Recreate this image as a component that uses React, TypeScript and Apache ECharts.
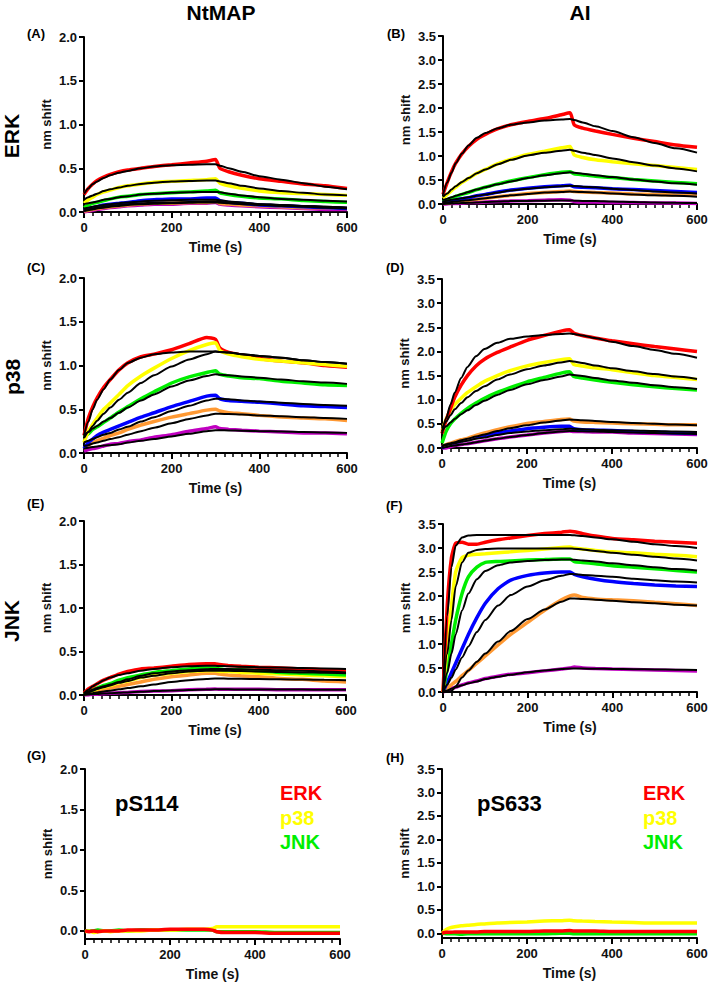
import React, { useEffect, useRef } from "react";
import * as echarts from "echarts";

// shared time grid (s)
const T = [0, 10, 20, 30, 45, 60, 80, 100, 130, 160, 200, 240, 280, 300, 310, 330, 360, 400, 450, 500, 550, 600];

const COLORS = { red: "#ff0000", yellow: "#ffff00", green: "#00ee00", blue: "#0000ff", orange: "#ff9933", purple: "#c000c0" };

// Panel A: NtMAP / ERK
const aRed = [0.2, 0.27, 0.32, 0.36, 0.4, 0.43, 0.46, 0.48, 0.5, 0.52, 0.54, 0.56, 0.58, 0.6, 0.5, 0.46, 0.42, 0.38, 0.35, 0.32, 0.3, 0.27];
const aRedFit = [0.21, 0.27, 0.32, 0.35, 0.39, 0.42, 0.45, 0.47, 0.5, 0.52, 0.535, 0.54, 0.545, 0.545, 0.53, 0.5, 0.46, 0.41, 0.37, 0.33, 0.29, 0.26];
const aYellow = [0.1, 0.14, 0.17, 0.2, 0.23, 0.25, 0.28, 0.3, 0.32, 0.34, 0.35, 0.36, 0.37, 0.38, 0.33, 0.3, 0.27, 0.24, 0.22, 0.21, 0.2, 0.19];
const aYellowFit = [0.14, 0.17, 0.19, 0.21, 0.24, 0.26, 0.28, 0.3, 0.32, 0.335, 0.35, 0.355, 0.36, 0.36, 0.35, 0.33, 0.3, 0.27, 0.24, 0.22, 0.2, 0.19];
const aGreen = [0.05, 0.08, 0.1, 0.11, 0.13, 0.15, 0.17, 0.18, 0.2, 0.21, 0.22, 0.23, 0.24, 0.25, 0.22, 0.2, 0.18, 0.16, 0.15, 0.13, 0.12, 0.11];
const aGreenFit = [0.09, 0.1, 0.11, 0.12, 0.14, 0.15, 0.17, 0.18, 0.2, 0.21, 0.22, 0.225, 0.23, 0.23, 0.225, 0.21, 0.19, 0.17, 0.15, 0.14, 0.13, 0.12];
const aBlue = [0.02, 0.04, 0.05, 0.06, 0.08, 0.09, 0.1, 0.11, 0.13, 0.14, 0.15, 0.15, 0.16, 0.16, 0.13, 0.11, 0.1, 0.08, 0.07, 0.06, 0.05, 0.04];
const aBlueFit = [0.04, 0.05, 0.06, 0.07, 0.08, 0.09, 0.1, 0.11, 0.12, 0.13, 0.135, 0.14, 0.14, 0.14, 0.135, 0.12, 0.11, 0.09, 0.08, 0.07, 0.06, 0.05];
const aOrange = [0.01, 0.02, 0.03, 0.04, 0.05, 0.06, 0.07, 0.08, 0.09, 0.1, 0.1, 0.11, 0.11, 0.12, 0.1, 0.09, 0.08, 0.07, 0.06, 0.05, 0.05, 0.04];
const aOrangeFit = [0.02, 0.03, 0.04, 0.05, 0.06, 0.07, 0.08, 0.09, 0.1, 0.105, 0.11, 0.115, 0.12, 0.12, 0.115, 0.11, 0.1, 0.09, 0.08, 0.07, 0.06, 0.05];
const aPurple = [0.0, 0.01, 0.02, 0.03, 0.04, 0.05, 0.06, 0.07, 0.08, 0.09, 0.09, 0.1, 0.1, 0.11, 0.09, 0.08, 0.07, 0.06, 0.05, 0.04, 0.03, 0.03];
const aPurpleFit = [0.01, 0.02, 0.03, 0.04, 0.05, 0.06, 0.07, 0.08, 0.09, 0.095, 0.1, 0.105, 0.11, 0.11, 0.105, 0.1, 0.09, 0.08, 0.07, 0.06, 0.05, 0.04];

// Panel B: AI / ERK
const bRed = [0.2, 0.45, 0.67, 0.85, 1.05, 1.2, 1.35, 1.45, 1.57, 1.65, 1.72, 1.78, 1.86, 1.9, 1.65, 1.58, 1.52, 1.45, 1.37, 1.3, 1.23, 1.18];
const bRedFit = [0.2, 0.45, 0.65, 0.85, 1.05, 1.22, 1.38, 1.48, 1.58, 1.65, 1.7, 1.74, 1.76, 1.77, 1.75, 1.7, 1.62, 1.52, 1.39, 1.27, 1.16, 1.07];
const bYellow = [0.12, 0.2, 0.28, 0.35, 0.45, 0.53, 0.64, 0.72, 0.84, 0.93, 1.03, 1.1, 1.17, 1.2, 1.02, 0.97, 0.92, 0.88, 0.84, 0.8, 0.76, 0.72];
const bYellowFit = [0.15, 0.22, 0.3, 0.37, 0.46, 0.54, 0.64, 0.72, 0.83, 0.92, 1.01, 1.07, 1.11, 1.13, 1.11, 1.07, 1.02, 0.95, 0.87, 0.8, 0.74, 0.68];
const bGreen = [0.05, 0.09, 0.12, 0.16, 0.2, 0.24, 0.3, 0.35, 0.42, 0.48, 0.55, 0.61, 0.66, 0.67, 0.63, 0.61, 0.58, 0.55, 0.51, 0.48, 0.45, 0.42];
const bGreenFit = [0.08, 0.11, 0.14, 0.17, 0.21, 0.25, 0.3, 0.35, 0.41, 0.47, 0.54, 0.6, 0.64, 0.66, 0.65, 0.63, 0.6, 0.56, 0.51, 0.47, 0.43, 0.4];
const bBlue = [0.03, 0.05, 0.07, 0.09, 0.11, 0.13, 0.17, 0.2, 0.25, 0.29, 0.33, 0.36, 0.38, 0.39, 0.36, 0.35, 0.34, 0.32, 0.3, 0.28, 0.26, 0.24];
const bBlueFit = [0.05, 0.07, 0.09, 0.1, 0.12, 0.14, 0.17, 0.2, 0.24, 0.28, 0.32, 0.35, 0.37, 0.38, 0.375, 0.36, 0.35, 0.32, 0.29, 0.26, 0.24, 0.22];
const bOrange = [0.01, 0.02, 0.03, 0.05, 0.07, 0.08, 0.1, 0.12, 0.15, 0.18, 0.22, 0.24, 0.26, 0.27, 0.26, 0.25, 0.24, 0.23, 0.21, 0.2, 0.19, 0.18];
const bOrangeFit = [0.02, 0.03, 0.04, 0.05, 0.07, 0.08, 0.1, 0.12, 0.15, 0.18, 0.21, 0.24, 0.25, 0.26, 0.255, 0.25, 0.24, 0.22, 0.2, 0.18, 0.17, 0.15];
const bPurple = [-0.01, 0.0, 0.01, 0.01, 0.02, 0.03, 0.03, 0.04, 0.05, 0.06, 0.07, 0.08, 0.09, 0.08, 0.05, 0.04, 0.04, 0.03, 0.03, 0.02, 0.02, 0.01];
const bPurpleFit = [0.0, 0.005, 0.01, 0.015, 0.02, 0.025, 0.03, 0.04, 0.05, 0.06, 0.065, 0.07, 0.075, 0.075, 0.07, 0.065, 0.06, 0.05, 0.04, 0.03, 0.025, 0.02];

// Panel C: NtMAP / p38
const cRed = [0.2, 0.4, 0.53, 0.63, 0.75, 0.84, 0.95, 1.03, 1.1, 1.13, 1.18, 1.25, 1.32, 1.3, 1.2, 1.15, 1.12, 1.08, 1.05, 1.03, 1.0, 0.98];
const cRedFit = [0.2, 0.36, 0.5, 0.61, 0.73, 0.84, 0.95, 1.03, 1.09, 1.13, 1.15, 1.16, 1.16, 1.16, 1.155, 1.15, 1.13, 1.11, 1.09, 1.06, 1.04, 1.02];
const cYellow = [0.12, 0.25, 0.33, 0.4, 0.5, 0.57, 0.67, 0.77, 0.88, 0.97, 1.08, 1.17, 1.24, 1.26, 1.17, 1.13, 1.1, 1.07, 1.05, 1.03, 1.01, 0.99];
const cYellowFit = [0.17, 0.24, 0.31, 0.37, 0.45, 0.52, 0.61, 0.69, 0.8, 0.89, 0.99, 1.07, 1.13, 1.16, 1.155, 1.15, 1.13, 1.11, 1.09, 1.06, 1.04, 1.02];
const cGreen = [0.18, 0.22, 0.27, 0.3, 0.35, 0.4, 0.47, 0.53, 0.62, 0.7, 0.8, 0.87, 0.92, 0.94, 0.9, 0.88, 0.86, 0.85, 0.82, 0.8, 0.78, 0.77];
const cGreenFit = [0.2, 0.24, 0.28, 0.31, 0.36, 0.4, 0.46, 0.52, 0.6, 0.67, 0.76, 0.83, 0.88, 0.9, 0.895, 0.89, 0.875, 0.86, 0.84, 0.82, 0.805, 0.79];
const cBlue = [0.05, 0.12, 0.16, 0.2, 0.24, 0.27, 0.31, 0.35, 0.41, 0.46, 0.53, 0.59, 0.65, 0.66, 0.62, 0.6, 0.59, 0.58, 0.56, 0.54, 0.53, 0.52];
const cBlueFit = [0.12, 0.14, 0.16, 0.18, 0.21, 0.23, 0.27, 0.3, 0.36, 0.41, 0.48, 0.54, 0.6, 0.62, 0.62, 0.615, 0.6, 0.59, 0.575, 0.56, 0.55, 0.54];
const cOrange = [0.05, 0.09, 0.12, 0.14, 0.17, 0.2, 0.23, 0.27, 0.32, 0.36, 0.41, 0.45, 0.49, 0.5, 0.48, 0.46, 0.45, 0.43, 0.41, 0.4, 0.39, 0.37];
const cOrangeFit = [0.08, 0.09, 0.11, 0.12, 0.14, 0.16, 0.18, 0.21, 0.25, 0.29, 0.34, 0.39, 0.43, 0.45, 0.448, 0.445, 0.44, 0.43, 0.42, 0.41, 0.4, 0.39];
const cPurple = [0.02, 0.04, 0.05, 0.06, 0.08, 0.1, 0.11, 0.13, 0.15, 0.18, 0.21, 0.25, 0.28, 0.3, 0.28, 0.27, 0.26, 0.25, 0.24, 0.23, 0.23, 0.22];
const cPurpleFit = [0.05, 0.06, 0.07, 0.075, 0.085, 0.09, 0.1, 0.12, 0.14, 0.16, 0.19, 0.22, 0.25, 0.26, 0.26, 0.258, 0.255, 0.25, 0.245, 0.24, 0.235, 0.23];

// Panel D: AI / p38
const dRed = [0.3, 0.58, 0.82, 1.05, 1.3, 1.5, 1.7, 1.84, 1.98, 2.09, 2.23, 2.33, 2.42, 2.45, 2.38, 2.33, 2.28, 2.22, 2.16, 2.1, 2.05, 2.0];
const dRedFit = [0.3, 0.62, 0.9, 1.15, 1.45, 1.68, 1.9, 2.05, 2.18, 2.26, 2.31, 2.34, 2.36, 2.37, 2.36, 2.33, 2.28, 2.2, 2.11, 2.03, 1.95, 1.87];
const dYellow = [0.35, 0.6, 0.78, 0.9, 1.03, 1.15, 1.27, 1.38, 1.5, 1.6, 1.7, 1.77, 1.83, 1.85, 1.73, 1.7, 1.66, 1.62, 1.56, 1.5, 1.46, 1.42];
const dYellowFit = [0.4, 0.55, 0.68, 0.8, 0.93, 1.05, 1.18, 1.28, 1.42, 1.52, 1.63, 1.71, 1.77, 1.8, 1.79, 1.76, 1.71, 1.65, 1.59, 1.53, 1.48, 1.43];
const dGreen = [0.1, 0.35, 0.5, 0.6, 0.72, 0.82, 0.93, 1.03, 1.15, 1.25, 1.37, 1.46, 1.55, 1.58, 1.48, 1.45, 1.41, 1.36, 1.31, 1.27, 1.23, 1.2];
const dGreenFit = [0.35, 0.45, 0.53, 0.6, 0.7, 0.78, 0.89, 0.98, 1.1, 1.2, 1.32, 1.41, 1.48, 1.52, 1.51, 1.49, 1.45, 1.4, 1.35, 1.3, 1.26, 1.22];
const dBlue = [0.0, 0.05, 0.08, 0.11, 0.15, 0.18, 0.22, 0.26, 0.31, 0.35, 0.4, 0.43, 0.45, 0.45, 0.4, 0.38, 0.37, 0.36, 0.34, 0.33, 0.31, 0.3];
const dBlueFit = [0.03, 0.06, 0.08, 0.1, 0.13, 0.15, 0.19, 0.22, 0.27, 0.31, 0.34, 0.37, 0.39, 0.4, 0.398, 0.39, 0.38, 0.37, 0.36, 0.35, 0.34, 0.33];
const dOrange = [0.03, 0.07, 0.1, 0.13, 0.17, 0.2, 0.26, 0.31, 0.38, 0.44, 0.51, 0.55, 0.59, 0.6, 0.56, 0.54, 0.53, 0.52, 0.5, 0.49, 0.48, 0.48];
const dOrangeFit = [0.05, 0.08, 0.1, 0.12, 0.16, 0.19, 0.24, 0.28, 0.35, 0.41, 0.47, 0.53, 0.57, 0.59, 0.585, 0.575, 0.56, 0.54, 0.52, 0.5, 0.485, 0.47];
const dPurple = [-0.02, 0.0, 0.03, 0.05, 0.07, 0.09, 0.12, 0.15, 0.19, 0.23, 0.27, 0.31, 0.34, 0.35, 0.34, 0.34, 0.33, 0.33, 0.31, 0.3, 0.29, 0.28];
const dPurpleFit = [0.0, 0.02, 0.04, 0.05, 0.07, 0.09, 0.12, 0.15, 0.19, 0.23, 0.27, 0.31, 0.34, 0.35, 0.35, 0.345, 0.34, 0.33, 0.32, 0.31, 0.3, 0.29];

// Panel E: NtMAP / JNK
const eRed = [0.02, 0.07, 0.1, 0.13, 0.17, 0.2, 0.24, 0.27, 0.3, 0.31, 0.33, 0.35, 0.36, 0.36, 0.35, 0.34, 0.33, 0.32, 0.31, 0.3, 0.29, 0.28];
const eRedFit = [0.02, 0.06, 0.1, 0.13, 0.17, 0.2, 0.23, 0.25, 0.28, 0.3, 0.32, 0.33, 0.335, 0.335, 0.334, 0.33, 0.325, 0.32, 0.315, 0.31, 0.305, 0.3];
const eYellow = [0.01, 0.03, 0.05, 0.07, 0.09, 0.11, 0.14, 0.16, 0.2, 0.23, 0.25, 0.27, 0.28, 0.28, 0.27, 0.27, 0.26, 0.25, 0.24, 0.23, 0.22, 0.21];
const eYellowFit = [0.01, 0.03, 0.05, 0.07, 0.09, 0.11, 0.14, 0.16, 0.2, 0.22, 0.25, 0.27, 0.28, 0.28, 0.28, 0.278, 0.275, 0.27, 0.265, 0.26, 0.255, 0.25];
const eGreen = [0.01, 0.04, 0.06, 0.08, 0.11, 0.13, 0.17, 0.2, 0.23, 0.26, 0.28, 0.3, 0.31, 0.31, 0.3, 0.29, 0.29, 0.28, 0.26, 0.25, 0.24, 0.23];
const eGreenFit = [0.02, 0.04, 0.06, 0.08, 0.1, 0.12, 0.15, 0.18, 0.22, 0.25, 0.27, 0.285, 0.295, 0.3, 0.3, 0.298, 0.295, 0.29, 0.285, 0.28, 0.27, 0.26];
const eOrange = [0.01, 0.02, 0.04, 0.05, 0.07, 0.08, 0.1, 0.12, 0.15, 0.18, 0.21, 0.23, 0.25, 0.25, 0.24, 0.23, 0.22, 0.21, 0.19, 0.18, 0.16, 0.15];
const eOrangeFit = [0.01, 0.015, 0.02, 0.03, 0.04, 0.05, 0.065, 0.08, 0.1, 0.12, 0.15, 0.17, 0.185, 0.19, 0.19, 0.188, 0.186, 0.183, 0.18, 0.177, 0.174, 0.17];
const ePurple = [0.0, 0.0, 0.01, 0.01, 0.015, 0.02, 0.025, 0.03, 0.04, 0.045, 0.05, 0.06, 0.065, 0.07, 0.065, 0.065, 0.065, 0.065, 0.06, 0.06, 0.06, 0.06];
const ePurpleFit = [0.0, 0.005, 0.01, 0.012, 0.016, 0.02, 0.025, 0.03, 0.038, 0.045, 0.052, 0.058, 0.063, 0.065, 0.065, 0.065, 0.064, 0.064, 0.063, 0.062, 0.061, 0.06];

// Panel F: AI / JNK
const fRed = [0, 1.8, 2.8, 3.1, 3.12, 3.08, 3.08, 3.12, 3.17, 3.21, 3.26, 3.3, 3.33, 3.35, 3.34, 3.3, 3.25, 3.2, 3.17, 3.14, 3.12, 3.1];
const fRedFit = [0, 1.6, 2.6, 3.05, 3.22, 3.26, 3.27, 3.27, 3.27, 3.27, 3.27, 3.27, 3.27, 3.27, 3.265, 3.25, 3.22, 3.18, 3.13, 3.08, 3.04, 3.0];
const fYellow = [0, 1.0, 1.8, 2.5, 2.8, 2.85, 2.87, 2.88, 2.9, 2.92, 2.95, 2.98, 3.01, 3.02, 3.0, 2.98, 2.95, 2.92, 2.9, 2.87, 2.85, 2.82];
const fYellowFit = [0, 0.8, 1.5, 2.2, 2.7, 2.9, 2.96, 2.98, 2.99, 2.99, 2.99, 2.99, 2.99, 2.99, 2.985, 2.97, 2.94, 2.9, 2.86, 2.82, 2.78, 2.74];
const fGreen = [0, 0.5, 1.0, 1.5, 2.05, 2.4, 2.6, 2.7, 2.72, 2.73, 2.75, 2.76, 2.77, 2.77, 2.72, 2.7, 2.67, 2.63, 2.6, 2.57, 2.53, 2.5];
const fGreenFit = [0, 0.4, 0.8, 1.2, 1.7, 2.05, 2.35, 2.52, 2.64, 2.7, 2.73, 2.75, 2.76, 2.76, 2.755, 2.74, 2.72, 2.68, 2.64, 2.6, 2.56, 2.53];
const fBlue = [0, 0.2, 0.4, 0.6, 0.9, 1.2, 1.55, 1.85, 2.15, 2.33, 2.43, 2.48, 2.5, 2.5, 2.45, 2.4, 2.35, 2.3, 2.26, 2.23, 2.21, 2.2];
const fBlueFit = [0, 0.15, 0.3, 0.47, 0.72, 0.95, 1.25, 1.5, 1.8, 2.02, 2.2, 2.33, 2.42, 2.46, 2.455, 2.44, 2.42, 2.4, 2.36, 2.33, 2.3, 2.28];
const fOrange = [0, 0.08, 0.15, 0.22, 0.34, 0.45, 0.6, 0.75, 0.98, 1.2, 1.45, 1.7, 1.92, 2.0, 2.02, 1.97, 1.94, 1.92, 1.9, 1.87, 1.84, 1.8];
const fOrangeFit = [0, 0.0, 0.02, 0.12, 0.3, 0.45, 0.63, 0.8, 1.05, 1.27, 1.52, 1.72, 1.88, 1.95, 1.95, 1.94, 1.92, 1.9, 1.87, 1.85, 1.82, 1.8];
const fPurple = [0, 0.03, 0.07, 0.1, 0.15, 0.19, 0.23, 0.28, 0.33, 0.37, 0.4, 0.44, 0.48, 0.5, 0.52, 0.5, 0.49, 0.48, 0.47, 0.46, 0.45, 0.44];
const fPurpleFit = [0, 0.03, 0.07, 0.1, 0.14, 0.18, 0.22, 0.27, 0.32, 0.36, 0.41, 0.45, 0.48, 0.49, 0.49, 0.488, 0.485, 0.48, 0.475, 0.47, 0.465, 0.46];

// Panel G: pS114 peptide
const gRed = [0.0, -0.01, 0.0, -0.01, 0.0, 0.0, 0.0, 0.01, 0.01, 0.01, 0.02, 0.02, 0.02, 0.01, -0.01, -0.02, -0.02, -0.02, -0.03, -0.03, -0.03, -0.03];
const gYellow = [-0.01, 0.0, -0.02, -0.01, 0.0, -0.01, 0.0, 0.0, 0.0, 0.01, 0.01, 0.02, 0.02, 0.03, 0.05, 0.05, 0.05, 0.05, 0.05, 0.05, 0.05, 0.05];
const gGreen = [0.0, 0.0, 0.0, 0.01, 0.0, 0.0, 0.01, 0.0, 0.01, 0.01, 0.01, 0.01, 0.01, 0.01, -0.01, -0.01, -0.01, -0.01, -0.02, -0.02, -0.02, -0.02];

// Panel H: pS633 peptide
const hRed = [0.0, 0.02, 0.02, 0.03, 0.03, 0.03, 0.03, 0.04, 0.04, 0.04, 0.04, 0.05, 0.05, 0.06, 0.05, 0.05, 0.05, 0.04, 0.04, 0.04, 0.04, 0.04];
const hYellow = [0.0, 0.08, 0.12, 0.14, 0.16, 0.17, 0.19, 0.2, 0.22, 0.23, 0.24, 0.26, 0.27, 0.28, 0.27, 0.26, 0.25, 0.24, 0.23, 0.22, 0.22, 0.22];
const hGreen = [0.0, -0.01, -0.01, -0.01, -0.02, -0.01, -0.01, -0.01, -0.01, -0.01, -0.01, -0.01, 0.0, 0.0, -0.01, -0.01, -0.01, -0.01, -0.01, -0.01, -0.01, -0.01];

const X_TICKS = [0, 200, 400, 600];
const Y_TICKS_2 = [0, 0.5, 1, 1.5, 2];
const Y_TICKS_35 = [0, 0.5, 1, 1.5, 2, 2.5, 3, 3.5];

const FONT = "Liberation Sans, Arial, Helvetica, sans-serif";

type Panel = {
  grid: { left: number; top: number; width: number; height: number };
  ymin: number;
  ymax: number;
  ticks: number[];
  data: [string, number[]][];
  fits: number[][];
};

const panels: Panel[] = [
  {
    grid: { left: 84, top: 37, width: 263, height: 175 }, ymin: 0, ymax: 2, ticks: Y_TICKS_2,
    data: [["purple", aPurple], ["orange", aOrange], ["blue", aBlue], ["green", aGreen], ["yellow", aYellow], ["red", aRed]],
    fits: [aPurpleFit, aOrangeFit, aBlueFit, aGreenFit, aYellowFit, aRedFit],
  },
  {
    grid: { left: 443, top: 36, width: 254, height: 168 }, ymin: 0, ymax: 3.5, ticks: Y_TICKS_35,
    data: [["purple", bPurple], ["orange", bOrange], ["blue", bBlue], ["green", bGreen], ["yellow", bYellow], ["red", bRed]],
    fits: [bPurpleFit, bOrangeFit, bBlueFit, bGreenFit, bYellowFit, bRedFit],
  },
  {
    grid: { left: 84, top: 278, width: 263, height: 175 }, ymin: 0, ymax: 2, ticks: Y_TICKS_2,
    data: [["purple", cPurple], ["orange", cOrange], ["blue", cBlue], ["green", cGreen], ["red", cRed], ["yellow", cYellow]],
    fits: [cPurpleFit, cOrangeFit, cBlueFit, cGreenFit, cYellowFit, cRedFit],
  },
  {
    grid: { left: 442, top: 279, width: 255, height: 169 }, ymin: 0, ymax: 3.5, ticks: Y_TICKS_35,
    data: [["purple", dPurple], ["blue", dBlue], ["orange", dOrange], ["green", dGreen], ["yellow", dYellow], ["red", dRed]],
    fits: [dPurpleFit, dBlueFit, dOrangeFit, dGreenFit, dYellowFit, dRedFit],
  },
  {
    grid: { left: 84, top: 521, width: 262, height: 174 }, ymin: 0, ymax: 2, ticks: Y_TICKS_2,
    data: [["purple", ePurple], ["orange", eOrange], ["yellow", eYellow], ["green", eGreen], ["red", eRed]],
    fits: [ePurpleFit, eOrangeFit, eYellowFit, eGreenFit, eRedFit],
  },
  {
    grid: { left: 443, top: 524, width: 254, height: 168 }, ymin: 0, ymax: 3.5, ticks: Y_TICKS_35,
    data: [["purple", fPurple], ["orange", fOrange], ["blue", fBlue], ["green", fGreen], ["yellow", fYellow], ["red", fRed]],
    fits: [fPurpleFit, fOrangeFit, fBlueFit, fGreenFit, fYellowFit, fRedFit],
  },
  {
    grid: { left: 85, top: 769, width: 255, height: 170 }, ymin: -0.1, ymax: 2, ticks: Y_TICKS_2,
    data: [["green", gGreen], ["yellow", gYellow], ["red", gRed]],
    fits: [],
  },
  {
    grid: { left: 442, top: 769, width: 255, height: 169 }, ymin: -0.1, ymax: 3.5, ticks: Y_TICKS_35,
    data: [["green", hGreen], ["yellow", hYellow], ["red", hRed]],
    fits: [],
  },
];

const pair = (vals: number[]) => T.map((t, i) => [t, vals[i]]);

function buildOption() {
  const grids: any[] = [];
  const xAxes: any[] = [];
  const yAxes: any[] = [];
  const series: any[] = [];
  panels.forEach((p, i) => {
    grids.push({ ...p.grid, outerBoundsMode: "none", containLabel: false });
    xAxes.push({
      type: "value", gridIndex: i, min: 0, max: 600, interval: 200,
      axisLine: { show: true, onZero: false, lineStyle: { color: "#000", width: 2 } },
      axisTick: { show: true, length: 6, customValues: X_TICKS, lineStyle: { color: "#000", width: 2 } },
      minorTick: { show: true, splitNumber: 10, length: 4, lineStyle: { color: "#000", width: 1.5 } },
      axisLabel: { customValues: X_TICKS, color: "#111", fontFamily: FONT, fontWeight: "bold", fontSize: 13, margin: 9 },
      splitLine: { show: false },
      name: "Time (s)", nameLocation: "middle", nameGap: 28,
      nameTextStyle: { color: "#111", fontFamily: FONT, fontWeight: "bold", fontSize: 14 },
    });
    yAxes.push({
      type: "value", gridIndex: i, min: p.ymin, max: p.ymax,
      axisLine: { show: true, lineStyle: { color: "#000", width: 2 } },
      axisTick: { show: true, length: 5, customValues: p.ticks, lineStyle: { color: "#000", width: 2 } },
      axisLabel: {
        customValues: p.ticks, color: "#111", fontFamily: FONT, fontWeight: "bold", fontSize: 13, margin: 7,
        formatter: (v: number) => v.toFixed(1),
      },
      splitLine: { show: false },
      name: "nm shift", nameLocation: "middle", nameGap: 31,
      nameTextStyle: { color: "#111", fontFamily: FONT, fontWeight: "bold", fontSize: 13 },
    });
    p.data.forEach(([c, vals]) => {
      series.push({
        type: "line", xAxisIndex: i, yAxisIndex: i, data: pair(vals), showSymbol: false, symbol: "none",
        smooth: 0.2, lineStyle: { color: (COLORS as any)[c], width: 3.5 }, silent: true, z: 2,
      });
    });
    p.fits.forEach((vals) => {
      series.push({
        type: "line", xAxisIndex: i, yAxisIndex: i, data: pair(vals), showSymbol: false, symbol: "none",
        smooth: 0.25, smoothMonotone: "x", lineStyle: { color: "#000", width: 2 }, silent: true, z: 3,
      });
    });
  });

  const txt = (text: string, x: number, y: number, size: number, fill = "#000", align = "left", rot = 0) => ({
    type: "text", x, y, rotation: rot,
    style: { text, fill, font: `bold ${size}px ${FONT}`, align, verticalAlign: "middle" },
    silent: true,
  });

  const graphic = [
    txt("NtMAP", 221, 12, 21, "#000", "center"),
    txt("AI", 580, 12, 21, "#000", "center"),
    txt("ERK", 11, 136, 21, "#000", "center", Math.PI / 2),
    txt("p38", 12, 377, 21, "#000", "center", Math.PI / 2),
    txt("JNK", 11, 621, 21, "#000", "center", Math.PI / 2),
    txt("(A)", 27, 33, 13),
    txt("(B)", 387, 33, 13),
    txt("(C)", 27, 267, 13),
    txt("(D)", 386, 267, 13),
    txt("(E)", 27, 503, 13),
    txt("(F)", 386, 505, 13),
    txt("(G)", 27, 755, 13),
    txt("(H)", 386, 757, 13),
    txt("pS114", 115, 803, 22),
    txt("pS633", 477, 803, 22),
    txt("ERK", 280, 793, 20, COLORS.red),
    txt("p38", 280, 818, 20, COLORS.yellow),
    txt("JNK", 280, 842, 20, COLORS.green),
    txt("ERK", 643, 793, 20, COLORS.red),
    txt("p38", 643, 818, 20, COLORS.yellow),
    txt("JNK", 643, 842, 20, COLORS.green),
  ];

  return {
    animation: false,
    backgroundColor: "#ffffff",
    grid: grids,
    xAxis: xAxes,
    yAxis: yAxes,
    series,
    graphic,
  };
}

export default function App() {
  const ref = useRef<HTMLDivElement>(null);
  useEffect(() => {
    if (!ref.current) return;
    const chart = echarts.init(ref.current, undefined, { renderer: "svg" });
    chart.setOption(buildOption() as any);
    return () => chart.dispose();
  }, []);
  return <div ref={ref} style={{ position: "absolute", left: 0, top: 0, width: 709, height: 985 }} />;
}
